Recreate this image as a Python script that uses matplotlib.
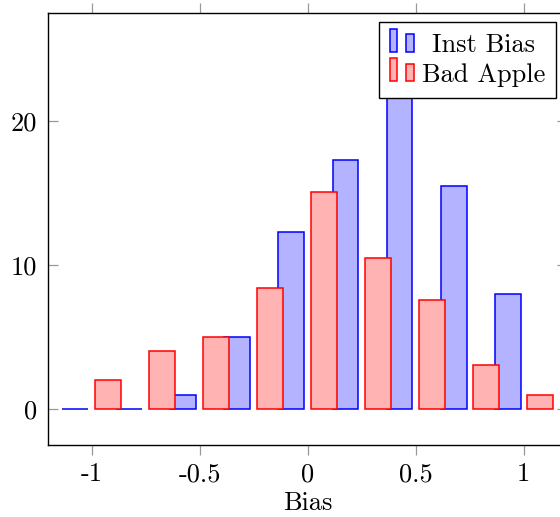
import matplotlib
matplotlib.use("Agg")
import matplotlib.pyplot as plt
import numpy as np
from matplotlib.legend_handler import HandlerBase
from matplotlib.patches import Rectangle
from matplotlib.container import BarContainer

# ---- data ----
bins = [-1.0, -0.75, -0.5, -0.25, 0.0, 0.25, 0.5, 0.75, 1.0]
inst_bias = [0, 0, 1, 5, 12.3, 17.3, 25, 15.5, 8]
bad_apple = [2, 4, 5, 8.4, 15.1, 10.5, 7.6, 3.05, 1]
xtick_vals = [-1, -0.5, 0, 0.5, 1]
xtick_labels = ["-1", "-0.5", "0", "0.5", "1"]
ytick_vals = [0, 10, 20]
ytick_labels = ["0", "10", "20"]
series_names = ["Inst Bias", "Bad Apple"]

plt.rcParams['font.family'] = ['cmr10', 'DejaVu Serif']
plt.rcParams['axes.unicode_minus'] = False
FS = 19

W, H = 560, 517
fig = plt.figure(figsize=(W / 100, H / 100), dpi=100)
left_px, right_px, top_px, bot_px = 48.3, 567.0, 13.3, 445.0
ax = fig.add_axes([left_px / W, (H - bot_px) / H,
                   (right_px - left_px) / W, (bot_px - top_px) / H])

x = np.array(bins)
bw = 0.12
off = 0.075
b1 = ax.bar(x - off, inst_bias, width=bw, facecolor=(0.7, 0.7, 1.0),
            edgecolor='blue', linewidth=1.1, zorder=2)
b2 = ax.bar(x + off, bad_apple, width=bw, facecolor=(1.0, 0.7, 0.7),
            edgecolor='red', linewidth=1.1, zorder=3)

ax.set_xlim(-1.2, 1.2)
ax.set_ylim(-2.5, 27.5)
ax.set_xticks(xtick_vals)
ax.set_xticklabels(xtick_labels, fontsize=FS)
ax.set_yticks(ytick_vals)
ax.set_yticklabels(ytick_labels, fontsize=FS)
ax.tick_params(axis='x', direction='out', top=True, bottom=True,
               length=7.5, width=0.9, color='#999999', pad=5)
ax.tick_params(axis='y', direction='in', left=True, right=True,
               length=7.5, width=0.9, color='#999999', pad=8)
for s in ax.spines.values():
    s.set_linewidth(1.0)
    s.set_color('black')
ax.set_xlabel("Bias", fontsize=FS, labelpad=4)


class DoubleBarHandler(HandlerBase):
    def create_artists(self, legend, orig_handle, xdescent, ydescent,
                       width, height, fontsize, trans):
        p = orig_handle.patches[0]
        fc = p.get_facecolor()
        ec = p.get_edgecolor()
        bwid = width * 0.32
        r1 = Rectangle((-xdescent, -ydescent), bwid, height * 1.3,
                       facecolor=fc, edgecolor=ec, linewidth=1.1, transform=trans)
        r2 = Rectangle((-xdescent + width - bwid, -ydescent), bwid, height,
                       facecolor=fc, edgecolor=ec, linewidth=1.1, transform=trans)
        return [r1, r2]


leg = ax.legend([b1, b2], series_names, loc='upper right',
                bbox_to_anchor=(556 / W, 1 - 22.3 / H), bbox_transform=fig.transFigure,
                borderaxespad=0, fancybox=False, framealpha=1, edgecolor='black',
                fontsize=FS, handlelength=0.9, handleheight=0.65, handletextpad=0.3,
                labelspacing=0.22, borderpad=0.42,
                handler_map={BarContainer: DoubleBarHandler()})
leg.get_frame().set_linewidth(1.0)
leg.set_zorder(5)

fig.canvas.draw()
# center the shorter label within the column, as in the reference
texts = leg.get_texts()
r = fig.canvas.get_renderer()
w0 = texts[0].get_window_extent(r).width
w1 = texts[1].get_window_extent(r).width
texts[0].set_x((w1 - w0) / 2)

fig.savefig("out.png", dpi=100)
